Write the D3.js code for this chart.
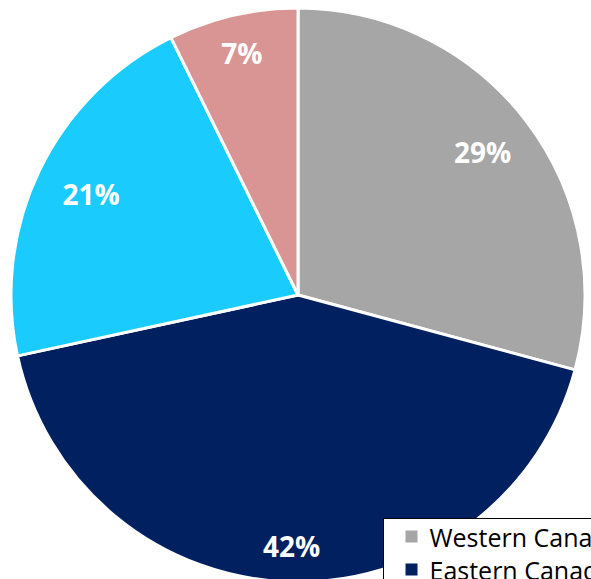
<!DOCTYPE html>
<html lang="en">
<head>
  <meta charset="UTF-8">
  <title>Regional share</title>
  <script src="https://d3js.org/d3.v7.min.js"></script>
  <style>
    body { margin: 0; background: #fff; overflow: hidden; }
    svg { display: block; }
  </style>
</head>
<body>
  <div id="chart"></div>
  <script>
    // Data (clockwise from 12 o'clock)
    const regions = ['Western Canada', 'Eastern Canada', 'Quebec', 'Other'];
    const shares = [29.2, 42.4, 21.1, 7.3];
    const labels = ['29%', '42%', '21%', '7%'];
    const colors = ['#a6a6a6', '#002060', '#1acbfe', '#d99594'];

    const width = 591, height = 579;
    const cx = 298, cy = 295, radius = 287;
    // label distance as fraction of radius (Excel best-fit look)
    const labelFrac = [0.81, 0.88, 0.8, 0.86];

    const svg = d3.select('#chart').append('svg')
      .attr('width', width)
      .attr('height', height);

    const g = svg.append('g').attr('transform', `translate(${cx},${cy})`);

    const pie = d3.pie().sort(null).value(d => d);
    const arcs = pie(shares);
    const arc = d3.arc().innerRadius(0).outerRadius(radius);

    g.selectAll('path.slice')
      .data(arcs)
      .join('path')
      .attr('class', 'slice')
      .attr('d', arc)
      .attr('fill', (d, i) => colors[i])
      .attr('stroke', '#fff')
      .attr('stroke-width', 3)
      .attr('stroke-linejoin', 'round');

    g.selectAll('text.lbl')
      .data(arcs)
      .join('text')
      .attr('class', 'lbl')
      .attr('transform', (d, i) => {
        const r = radius * labelFrac[i];
        const c = d3.arc().innerRadius(r).outerRadius(r).centroid(d);
        return `translate(${c[0]},${c[1]})`;
      })
      .attr('text-anchor', 'middle')
      .attr('dy', '0.35em')
      .attr('fill', '#fff')
      .attr('font-family', 'Open Sans, Liberation Sans, sans-serif')
      .attr('font-weight', 'bold')
      .attr('font-size', 28)
      .text((d, i) => labels[i]);

    // legend (partly off-canvas, as in the original)
    const leg = svg.append('g').attr('transform', 'translate(383.5,518.5)');
    leg.append('rect')
      .attr('width', 260).attr('height', 120)
      .attr('fill', '#fff')
      .attr('stroke', '#000')
      .attr('stroke-width', 1);

    const items = leg.selectAll('g.item')
      .data(regions.slice(0, 2))
      .join('g')
      .attr('class', 'item')
      .attr('transform', (d, i) => `translate(0,${i * 33})`);

    items.append('rect')
      .attr('x', 22).attr('y', 12)
      .attr('width', 12).attr('height', 12)
      .attr('fill', (d, i) => colors[i]);

    items.append('text')
      .attr('x', 46).attr('y', 28)
      .attr('font-family', 'Open Sans, Liberation Sans, sans-serif')
      .attr('font-size', 25)
      .attr('fill', '#000')
      .text(d => d);
  </script>
</body>
</html>
